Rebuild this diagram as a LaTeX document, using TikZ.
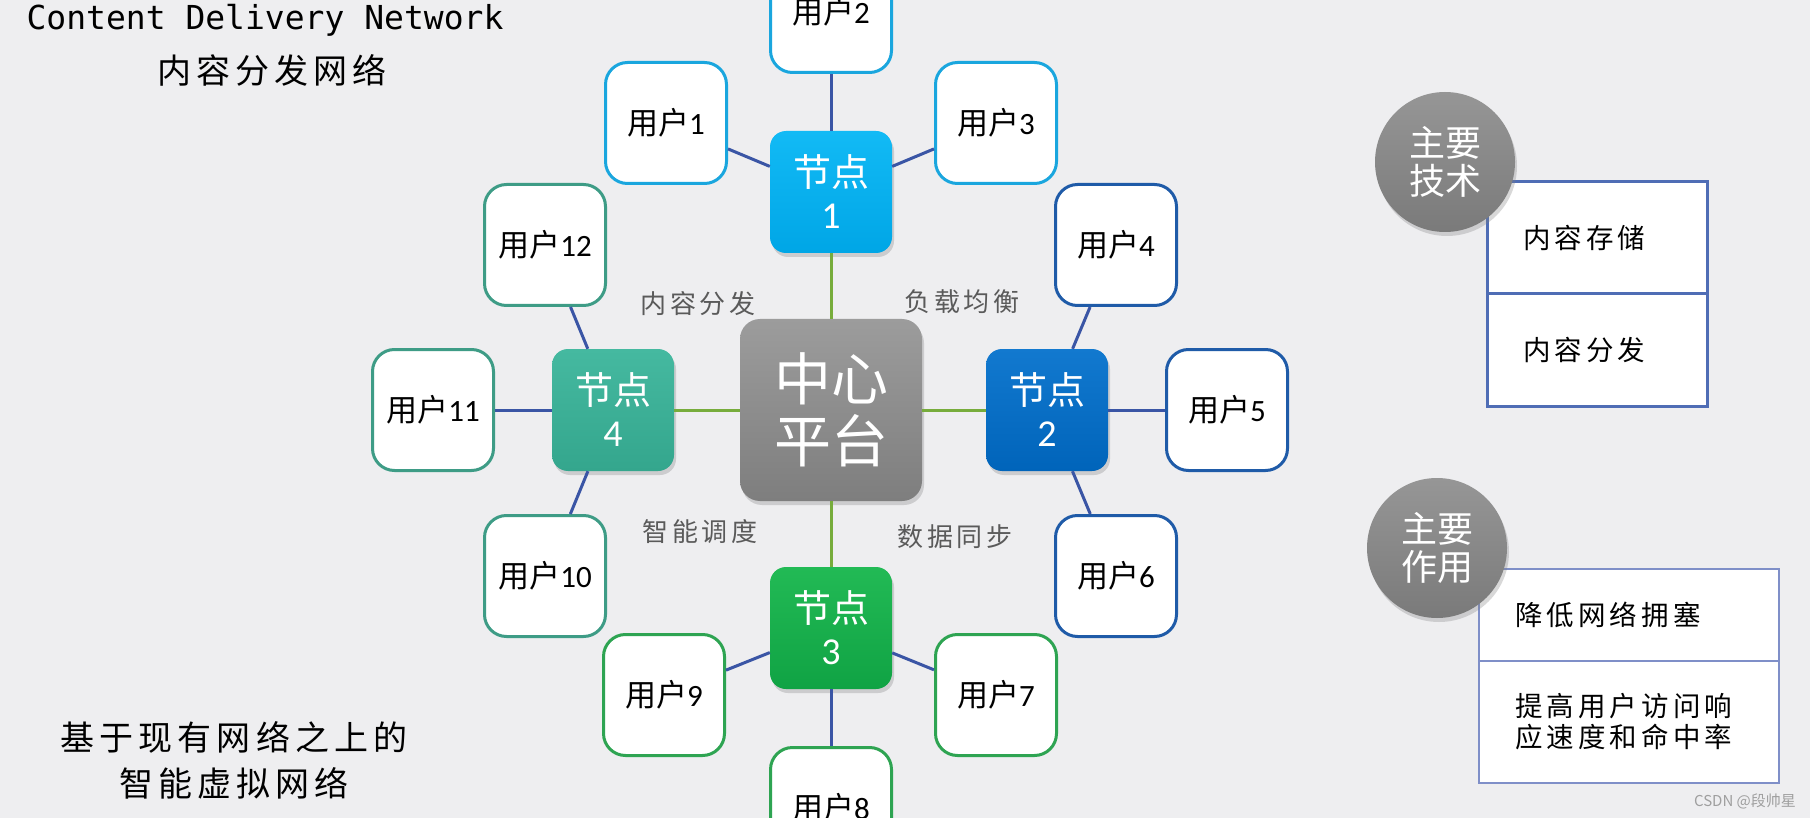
\documentclass[tikz,border=0pt]{standalone}
\usepackage{fontspec}
\newfontfamily\cjk{Noto Sans CJK SC}
\newfontfamily\cjkwide{Noto Sans CJK SC}[LetterSpace=15]
\newfontfamily\titlemono{DejaVu Sans Mono}
\newfontfamily\digits{Carlito}
\usetikzlibrary{positioning, shadows}

\definecolor{bgcol}{HTML}{EEEEF0}
\definecolor{linkgreen}{HTML}{77AC3C}
\definecolor{linkblue}{HTML}{3A55A5}
\definecolor{capgray}{HTML}{5A5A5A}
\definecolor{cyanedge}{HTML}{1AA6DE}
\definecolor{blueedge}{HTML}{1F5BA8}
\definecolor{greenedge}{HTML}{2EA452}
\definecolor{tealedge}{HTML}{3E9C86}
\definecolor{cellblue}{HTML}{4F6DB5}
\definecolor{cellthin}{HTML}{7F8FC8}
\definecolor{hubtop}{HTML}{9C9C9C}
\definecolor{hubbot}{HTML}{7E7E7E}
\definecolor{cyantop}{HTML}{12BAF5}
\definecolor{cyanbot}{HTML}{00A6E6}
\definecolor{bluetop}{HTML}{1279CF}
\definecolor{bluebot}{HTML}{0064BA}
\definecolor{greentop}{HTML}{22BA55}
\definecolor{greenbot}{HTML}{10A344}
\definecolor{tealtop}{HTML}{45B9A0}
\definecolor{tealbot}{HTML}{34A68D}
\definecolor{badgetop}{HTML}{969696}
\definecolor{badgebot}{HTML}{7A7A7A}

\tikzset {
    node distance=218pt,
    on grid,
    softshadow/.style={drop shadow={opacity=0.3, shadow xshift=2pt, shadow yshift=-4pt}},
    hub/.style={rounded corners=20pt, minimum size=182pt, top color=hubtop, bottom color=hubbot, softshadow, text=white, align=center, font=\cjk\fontsize{57}{62}\selectfont},
    relay/.style={rounded corners=16pt, minimum size=122pt, softshadow, text=white, align=center, font=\cjk\fontsize{38}{42}\selectfont},
    user/.style={draw, line width=3pt, fill=white, rounded corners=22pt, minimum size=121pt, font=\cjk\fontsize{31}{34}\selectfont},
    trunk/.style={draw=linkgreen, line width=3pt},
    branch/.style={draw=linkblue, line width=3pt},
    caption/.style={text=capgray, font=\cjkwide\fontsize{26}{30}\selectfont},
    badge/.style={circle, minimum size=140pt, top color=badgetop, bottom color=badgebot, softshadow, text=white, align=center, font=\cjk\fontsize{36}{38}\selectfont},
    cell/.style={draw, fill=white, align=left, inner xsep=36pt, font=\cjkwide\fontsize{27.5}{32}\selectfont}
}

\begin{document}
\begin{tikzpicture}[x=1pt, y=-1pt]
    \useasboundingbox (0,0) rectangle (1810,818);
    \fill[bgcol] (0,0) rectangle (1810,818);

    % centre and the four relay nodes
    \node[hub] (cp) at (831,410) {中心\\平台};
    \node[relay, top color=cyantop, bottom color=cyanbot, above=of cp] (n1) {节点\\{\digits 1}};
    \node[relay, top color=bluetop, bottom color=bluebot, right=216pt of cp] (n2) {节点\\{\digits 2}};
    \node[relay, top color=greentop, bottom color=greenbot, below=of cp] (n3) {节点\\{\digits 3}};
    \node[relay, top color=tealtop, bottom color=tealbot, left=of cp] (n4) {节点\\{\digits 4}};

    % users round each relay
    \node[user, draw=cyanedge, above left=69pt and 165pt of n1] (u1) {用户{\digits 1}};
    \node[user, draw=cyanedge, above=180pt of n1] (u2) {用户{\digits 2}};
    \node[user, draw=cyanedge, above right=69pt and 165pt of n1] (u3) {用户{\digits 3}};
    \node[user, draw=blueedge, above right=165pt and 69pt of n2] (u4) {用户{\digits 4}};
    \node[user, draw=blueedge, right=180pt of n2] (u5) {用户{\digits 5}};
    \node[user, draw=blueedge, below right=166pt and 69pt of n2] (u6) {用户{\digits 6}};
    \node[user, draw=greenedge, below right=67pt and 165pt of n3] (u7) {用户{\digits 7}};
    \node[user, draw=greenedge, below=180pt of n3] (u8) {用户{\digits 8}};
    \node[user, draw=greenedge, below left=67pt and 167pt of n3] (u9) {用户{\digits 9}};
    \node[user, draw=tealedge, below left=166pt and 68pt of n4] (u10) {用户{\digits 10}};
    \node[user, draw=tealedge, left=180pt of n4] (u11) {用户{\digits 11}};
    \node[user, draw=tealedge, above left=165pt and 68pt of n4] (u12) {用户{\digits 12}};

    \draw
    (cp) edge[trunk] (n1)
    (cp) edge[trunk] (n2)
    (cp) edge[trunk] (n3)
    (cp) edge[trunk] (n4)
    (n1) edge[branch] (u1)
    (n1) edge[branch] (u2)
    (n1) edge[branch] (u3)
    (n2) edge[branch] (u4)
    (n2) edge[branch] (u5)
    (n2) edge[branch] (u6)
    (n3) edge[branch] (u7)
    (n3) edge[branch] (u8)
    (n3) edge[branch] (u9)
    (n4) edge[branch] (u10)
    (n4) edge[branch] (u11)
    (n4) edge[branch] (u12);

    \node[caption] (c1) at (698,304) {内容分发};
    \node[caption] (c2) at (962,302) {负载均衡};
    \node[caption] (c3) at (700,532) {智能调度};
    \node[caption] (c4) at (955,537) {数据同步};

    % titles
    \node[font=\titlemono\fontsize{33}{36}\selectfont] (title) at (265,20) {Content Delivery Network};
    \node[font=\cjkwide\fontsize{34}{38}\selectfont] (subtitle) at (272,70) {内容分发网络};
    \node[font=\cjkwide\fontsize{34}{46}\selectfont, align=center] (note) at (234,760) {基于现有网络之上的\\智能虚拟网络};

    % right hand panels
    \node[cell, draw=cellblue, line width=3pt, text width=148pt, minimum height=112pt] (tb1) at (1597,238) {内容存储};
    \node[cell, draw=cellblue, line width=3pt, text width=148pt, minimum height=112pt, below=112pt of tb1] (tb2) {内容分发};
    \node[badge] (bt) at (1445,162) {主要\\技术};

    \node[cell, draw=cellthin, line width=1.5pt, text width=228pt, minimum height=92pt] (ta1) at (1629,615) {降低网络拥塞};
    \node[cell, draw=cellthin, line width=1.5pt, text width=228pt, minimum height=122pt, font=\cjkwide\fontsize{27.5}{31}\selectfont, below=107pt of ta1] (ta2) {提高用户访问响\\应速度和命中率};
    \node[badge] (ba) at (1437,548) {主要\\作用};

    \node[text=gray!75, font=\cjk\fontsize{15}{18}\selectfont] (mark) at (1745,801) {CSDN @段帅星};
\end{tikzpicture}
\end{document}
